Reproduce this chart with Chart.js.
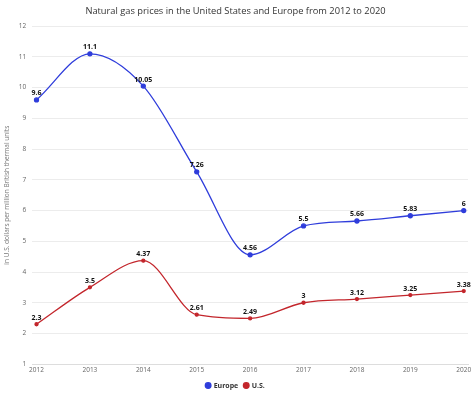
<!DOCTYPE html>
<html><head><meta charset="utf-8">
<script src="https://cdn.jsdelivr.net/npm/chart.js@4/dist/chart.umd.min.js"></script>
<style>html,body{margin:0;padding:0;background:#fff}#w{width:474px;height:399px}</style>
</head><body><div id="w"><canvas id="c"></canvas></div>
<script>
const years = [2012, 2013, 2014, 2015, 2016, 2017, 2018, 2019, 2020];
const europe = [9.6, 11.1, 10.05, 7.26, 4.56, 5.5, 5.66, 5.83, 6];
const us = [2.3, 3.5, 4.37, 2.61, 2.49, 3, 3.12, 3.25, 3.38];
const yTicks = [1,2,3,4,5,6,7,8,9,10,11,12];

const labelPlugin = {
  id: 'pointLabels',
  afterDatasetsDraw(chart) {
    const ctx = chart.ctx;
    ctx.save();
    ctx.font = 'bold 7px "Open Sans", sans-serif';
    ctx.fillStyle = '#111';
    ctx.textAlign = 'center';
    ctx.textBaseline = 'bottom';
    chart.data.datasets.forEach((ds, i) => {
      chart.getDatasetMeta(i).data.forEach((pt, j) => {
        ctx.fillText(String(ds.data[j].y), pt.x, pt.y - 3);
      });
    });
    ctx.restore();
  }
};

new Chart(document.getElementById('c'), {
  type: 'line',
  data: {
    datasets: [
      { label: 'Europe', data: years.map((y,i)=>({x:y,y:europe[i]})), borderColor:'#2f3ddb', backgroundColor:'#2f3ddb', borderWidth:1.3, pointRadius:2, cubicInterpolationMode:'monotone' },
      { label: 'U.S.', data: years.map((y,i)=>({x:y,y:us[i]})), borderColor:'#c3262c', backgroundColor:'#c3262c', borderWidth:1.3, pointRadius:1.5, cubicInterpolationMode:'monotone' }
    ]
  },
  options: {
    responsive: true, maintainAspectRatio: false, animation: false,
    layout: { padding: { left: 3, right: 6, top: 0, bottom: 0 } },
    plugins: {
      title: { display: true, text: 'Natural gas prices in the United States and Europe from 2012 to 2020', color:'#333', font:{size:9.3, family:'"Open Sans", sans-serif', weight:'normal'}, padding:{top:6,bottom:9} },
      legend: { position:'bottom', labels:{ usePointStyle:true, pointStyle:'circle', boxWidth:4, boxHeight:4, color:'#333', font:{size:7, weight:'bold', family:'"Open Sans", sans-serif'}, padding:6 } },
      tooltip: { enabled:false }
    },
    scales: {
      x: { type:'linear', min:2011.92, max:2020.08, afterBuildTicks(s){ s.ticks = years.map(v=>({value:v})); },
           grid:{ display:false, drawTicks:false, tickLength:0 }, border:{ color:'#ddd' },
           ticks:{ color:'#666', font:{size:6.5, family:'"Open Sans", sans-serif'}, maxRotation:0, callback:v=>String(v), padding:2 } },
      y: { min:1, max:12, afterBuildTicks(s){ s.ticks = yTicks.map(v=>({value:v})); },
           grid:{ color:'#ececec', drawTicks:false }, border:{ display:false },
           ticks:{ color:'#666', font:{size:6.5, family:'"Open Sans", sans-serif'}, padding:6 },
           title:{ display:true, text:'in U.S. dollars per million British thermal units', color:'#777', font:{size:6.5, family:'"Open Sans", sans-serif'}, padding:{top:0,bottom:2} } }
    }
  },
  plugins: [labelPlugin]
});
</script></body></html>
